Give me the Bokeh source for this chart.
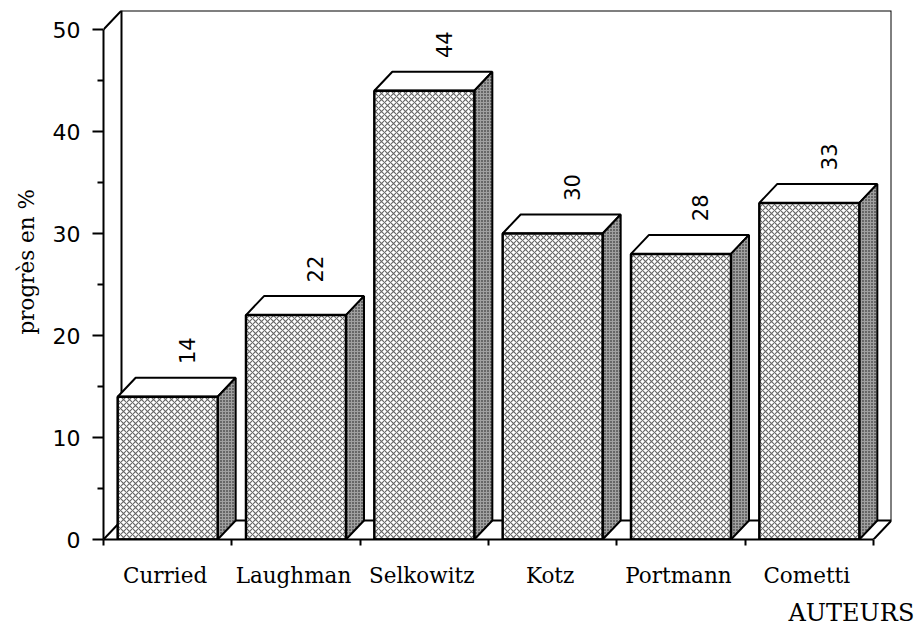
from bokeh.plotting import figure
from bokeh.models import FixedTicker, Title
from math import pi
from bokeh.core.properties import value
from bokeh.embed import file_html
from bokeh.resources import INLINE

authors = ["Curried", "Laughman", "Selkowitz", "Kotz", "Portmann", "Cometti"]
progress = [14, 22, 44, 30, 28, 33]
y_major = [0, 10, 20, 30, 40, 50]
y_minor = [5, 15, 25, 35, 45]
y_title = "progrès en %"
x_title = "AUTEURS"

N = len(authors)
YMAX = 50
DX = 18 / 128.33
DY = 19 / 10.2
BW = 100 / 128.33
SANS = "DejaVu Sans"
SERIF = "DejaVu Serif"

p = figure(width=920, height=632, output_backend="svg", toolbar_location=None,
           x_range=(0, N + DX), y_range=(0, YMAX + DY),
           min_border_left=103, min_border_right=29, min_border_top=10, min_border_bottom=93,
           outline_line_color=None, background_fill_color="white")
p.grid.visible = False

# back wall and floor
p.line([0, 0 + DX, N + DX, N + DX, N], [YMAX, YMAX + DY, YMAX + DY, DY, 0], line_color="black", line_width=2)
p.line([DX, DX], [DY, YMAX + DY], line_color="black", line_width=2)
p.line([0, DX, N + DX], [0, DY, DY], line_color="black", line_width=2)

lefts = [i + 0.5 - BW / 2 for i in range(N)]
rights = [l + BW for l in lefts]
mids = [i + 0.5 for i in range(N)]

# top and side faces
p.patches([[l, l + DX, r + DX, r] for l, r in zip(lefts, rights)],
          [[v, v + DY, v + DY, v] for v in progress],
          fill_color="white", line_color="black", line_width=2)
p.patches([[r, r + DX, r + DX, r] for r in rights],
          [[0, DY, v + DY, v] for v in progress],
          fill_color="#a0a0a0", line_color="black", line_width=2,
          hatch_pattern="dot", hatch_scale=3, hatch_weight=2, hatch_color="#111111")
# front faces
p.vbar(x=mids, width=BW, bottom=0, top=progress,
       fill_color="white", line_color="black", line_width=2.5,
       hatch_pattern="diagonal_cross", hatch_scale=6, hatch_weight=1.1, hatch_color="#666666")

# value labels
p.text([m + 0.15 for m in mids], [v + DY + 2.65 for v in progress], text=[str(v) for v in progress],
       angle=pi / 2, text_align="center", text_baseline="middle",
       text_font=value(SANS), text_font_size="21px", text_color="black")

tick_pos = [m - 0.02 for m in mids]
xa = p.xaxis[0]
xa.bounds = (0, N)
xa.ticker = FixedTicker(ticks=tick_pos, minor_ticks=list(range(N + 1)))
xa.major_label_overrides = {t: a for t, a in zip(tick_pos, authors)}
xa.major_tick_line_color = None
xa.major_tick_out = 0
xa.major_tick_in = 0
xa.minor_tick_out = 6
xa.minor_tick_in = 0
xa.minor_tick_line_width = 2
xa.minor_tick_line_color = "black"
xa.axis_line_width = 2
xa.axis_line_color = "black"
xa.major_label_standoff = 17
xa.major_label_text_font = SERIF
xa.major_label_text_font_size = "21.5px"
xa.major_label_text_color = "black"

ya = p.yaxis[0]
ya.bounds = (0, YMAX)
ya.ticker = FixedTicker(ticks=y_major, minor_ticks=y_minor)
ya.major_tick_out = 11
ya.major_tick_in = 0
ya.minor_tick_out = 6
ya.minor_tick_in = 0
ya.major_tick_line_width = 2
ya.minor_tick_line_width = 2
ya.major_tick_line_color = "black"
ya.minor_tick_line_color = "black"
ya.axis_line_width = 2
ya.axis_line_color = "black"
ya.major_label_standoff = 12
ya.major_label_text_font = SANS
ya.major_label_text_font_size = "22px"
ya.major_label_text_color = "black"

p.add_layout(Title(text=y_title, align="left", offset=205, standoff=22, text_font=SERIF,
                   text_font_style="normal", text_font_size="21.5px", text_color="black"), "left")
p.add_layout(Title(text=x_title, align="left", offset=685, standoff=12, vertical_align="bottom", text_font=SERIF,
                   text_font_style="normal", text_font_size="24px", text_color="black"), "below")

open("out.html", "w").write(file_html(p, INLINE))
